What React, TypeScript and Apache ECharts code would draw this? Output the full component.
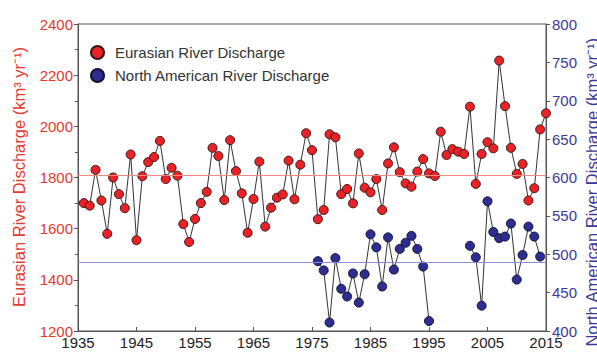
import React, { useEffect, useRef } from "react";
import * as echarts from "echarts";

const eurYears = [
  1936, 1937, 1938, 1939, 1940, 1941, 1942, 1943, 1944, 1945,
  1946, 1947, 1948, 1949, 1950, 1951, 1952, 1953, 1954, 1955,
  1956, 1957, 1958, 1959, 1960, 1961, 1962, 1963, 1964, 1965,
  1966, 1967, 1968, 1969, 1970, 1971, 1972, 1973, 1974, 1975,
  1976, 1977, 1978, 1979, 1980, 1981, 1982, 1983, 1984, 1985,
  1986, 1987, 1988, 1989, 1990, 1991, 1992, 1993, 1994, 1995,
  1996, 1997, 1998, 1999, 2000, 2001, 2002, 2003, 2004, 2005,
  2006, 2007, 2008, 2009, 2010, 2011, 2012, 2013, 2014, 2015,
];
const eurValues = [
  1700, 1690, 1830, 1710, 1580, 1800, 1735, 1680, 1890, 1555,
  1805, 1860, 1880, 1943, 1794, 1838, 1807, 1618, 1548, 1638,
  1700, 1744, 1916, 1884, 1712, 1946, 1825, 1738, 1584, 1716,
  1862, 1608, 1682, 1721, 1734, 1866, 1715, 1850, 1973, 1907,
  1637, 1673, 1969, 1957, 1735, 1755, 1699, 1894, 1760, 1742,
  1794, 1673, 1855, 1918, 1821, 1777, 1764, 1823, 1872, 1816,
  1806, 1979, 1888, 1911, 1901, 1892, 2077, 1775, 1892, 1938,
  1914, 2257, 2079, 1916, 1814, 1853, 1710, 1758, 1988, 2051,
];
const naYears = [
  1976, 1977, 1978, 1979, 1980, 1981, 1982, 1983, 1984, 1985,
  1986, 1987, 1988, 1989, 1990, 1991, 1992, 1993, 1994, 1995,
  1996, 1997, 1998, 1999, 2000, 2001, 2002, 2003, 2004, 2005,
  2006, 2007, 2008, 2009, 2010, 2011, 2012, 2013, 2014,
];
const naValues: (number | null)[] = [
  491, 479, 411, 495, 455, 445, 475, 437, 474, 526,
  509, 458, 522, 480, 507, 515, 524, 507, 484, 413,
  null, null, null, null, null, null, 511, 496, 433, 569,
  529, 521, 523, 540, 467, 499, 536, 523, 497,
];
const eurMean = 1810;
const naMean = 490;

const eurName = "Eurasian River Discharge";
const naName = "North American River Discharge";
const eurAxisName = "Eurasian River Discharge (km³ yr⁻¹)";
const naAxisName = "North American River Discharge (km³ yr⁻¹)";

const FONT = "Liberation Sans, Arial, sans-serif";
const RED_TEXT = "#e5392e";
const BLUE_TEXT = "#3d3899";
const plain = (v: number) => String(v);

export default function App() {
  const ref = useRef<HTMLDivElement>(null);
  useEffect(() => {
    if (!ref.current) return;
    const chart = echarts.init(ref.current, null, { renderer: "svg" });
    const eurData = eurYears.map((y, i) => [y, eurValues[i]]);
    const naData = naYears.map((y, i) => [y, naValues[i]]);
    chart.setOption({
      animation: false,
      backgroundColor: "#ffffff",
      textStyle: { fontFamily: FONT },
      grid: {
        left: 78,
        right: 51,
        top: 24,
        bottom: 22,
        show: true,
        borderColor: "#555",
        borderWidth: 1,
        backgroundColor: "transparent",
      },
      legend: {
        orient: "vertical",
        left: 85,
        top: 40,
        itemWidth: 13,
        itemHeight: 13,
        itemGap: 8,
        icon: "circle",
        textStyle: { fontSize: 15, color: "#333", fontFamily: FONT, padding: [0, 0, 0, 6] },
        data: [eurName, naName],
      },
      xAxis: {
        type: "value",
        min: 1935,
        max: 2015,
        interval: 10,
        axisLine: { lineStyle: { color: "#555" } },
        axisTick: { show: true, length: 4, inside: true, lineStyle: { color: "#555" } },
        axisLabel: { fontSize: 15, color: "#222", margin: 4, fontFamily: FONT, formatter: plain },
        splitLine: { show: false },
      },
      yAxis: [
        {
          type: "value",
          min: 1200,
          max: 2400,
          interval: 200,
          position: "left",
          axisLine: { show: true, lineStyle: { color: "#555" } },
          axisTick: { show: true, length: 4, lineStyle: { color: "#555" } },
          minorTick: { show: true, splitNumber: 2, length: 3, lineStyle: { color: "#555" } },
          axisLabel: { fontSize: 15, color: RED_TEXT, margin: 5, fontFamily: FONT, formatter: plain },
          splitLine: { show: false },
        },
        {
          type: "value",
          min: 400,
          max: 800,
          interval: 50,
          position: "right",
          axisLine: { show: true, lineStyle: { color: "#555" } },
          axisTick: { show: true, length: 4, lineStyle: { color: "#555" } },
          axisLabel: { fontSize: 15, color: BLUE_TEXT, margin: 6, fontFamily: FONT, formatter: plain },
          splitLine: { show: false },
        },
      ],
      graphic: [
        {
          type: "text",
          x: 19,
          y: 177,
          rotation: Math.PI / 2,
          style: {
            text: eurAxisName,
            fill: RED_TEXT,
            font: `16.5px ${FONT}`,
            align: "center",
            verticalAlign: "middle",
          },
        },
        {
          type: "text",
          x: 592,
          y: 38,
          rotation: Math.PI / 2,
          style: {
            text: naAxisName,
            fill: BLUE_TEXT,
            font: `16.5px ${FONT}`,
            align: "right",
            verticalAlign: "middle",
          },
        },
      ],
      series: [
        {
          name: eurName,
          type: "line",
          yAxisIndex: 0,
          data: eurData,
          symbol: "circle",
          symbolSize: 9,
          lineStyle: { color: "#333", width: 1 },
          itemStyle: { color: "#ea2228", borderColor: "#3a1a14", borderWidth: 1 },
          z: 3,
          markLine: {
            silent: true,
            symbol: "none",
            label: { show: false },
            lineStyle: { color: "#f08a7c", width: 1, type: "solid" },
            data: [{ yAxis: eurMean }],
          },
        },
        {
          name: naName,
          type: "line",
          yAxisIndex: 1,
          data: naData,
          connectNulls: false,
          symbol: "circle",
          symbolSize: 9,
          lineStyle: { color: "#333", width: 1 },
          itemStyle: { color: "#2c2f91", borderColor: "#141432", borderWidth: 1 },
          z: 3,
          markLine: {
            silent: true,
            symbol: "none",
            label: { show: false },
            lineStyle: { color: "#8a8ad8", width: 1, type: "solid" },
            data: [{ yAxis: naMean }],
          },
        },
      ],
    });
    return () => chart.dispose();
  }, []);
  return (
    <div
      ref={ref}
      style={{ position: "fixed", left: 0, top: 0, width: 597, height: 353 }}
    />
  );
}
